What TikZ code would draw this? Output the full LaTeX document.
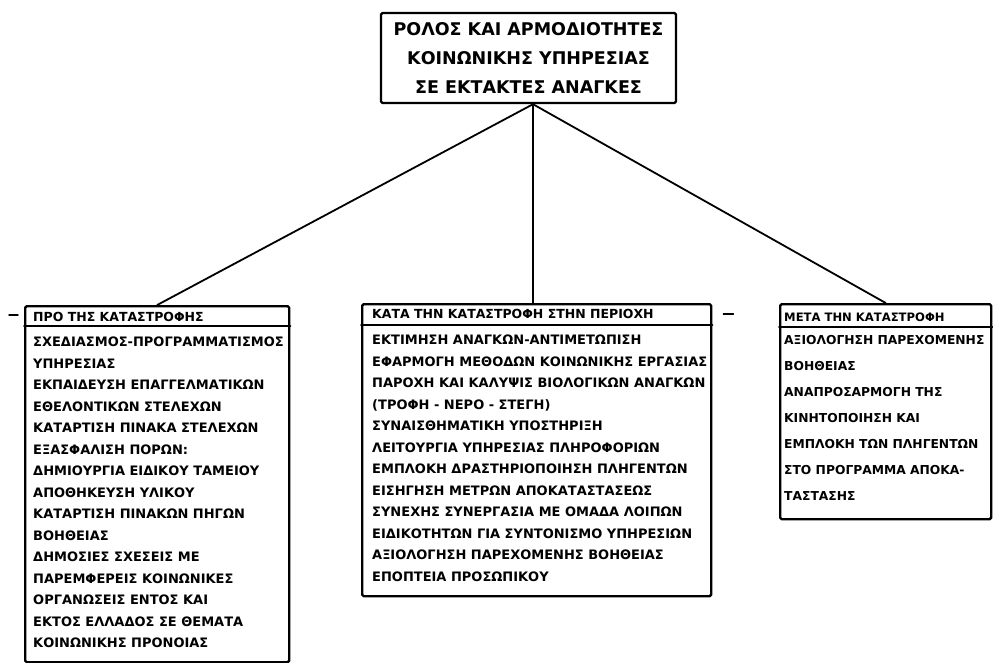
\documentclass[tikz,border=0pt]{standalone}
\usepackage{fontspec}
\setmainfont{DejaVu Sans}
\begin{document}
\begin{tikzpicture}[x=1pt, y=-1pt, line cap=round, line join=round,
  riquadro/.style={draw, line width=2.4pt, rounded corners=1.5pt, inner sep=0pt, anchor=north west},
  intesta/.style={inner sep=0pt, anchor=north west, font=\bfseries\fontsize{#1}{16}\selectfont},
  intesta/.default=12.5,
  voci/.style 2 args={inner sep=0pt, anchor=north west, align=left, font=\bfseries\fontsize{#1}{#2}\selectfont},
  filo/.style={line width=1.8pt}]
  \useasboundingbox (0,0) rectangle (993,663);

  % titolo
  \node[draw, line width=2.4pt, rounded corners=1.5pt, minimum width=295pt, minimum height=90pt,
        align=center, font=\bfseries\fontsize{17.5}{29}\selectfont] (titolo) at (528.5,58)
    {ΡΟΛΟΣ ΚΑΙ ΑΡΜΟΔΙΟΤΗΤΕΣ\\ΚΟΙΝΩΝΙΚΗΣ ΥΠΗΡΕΣΙΑΣ\\ΣΕ ΕΚΤΑΚΤΕΣ ΑΝΑΓΚΕΣ};
  \coordinate (nodo) at ([xshift=4.5pt]titolo.south);

  % riquadri
  \node[riquadro, minimum width=264pt, minimum height=356pt] (prima) at (24,305) {};
  \node[riquadro, minimum width=349pt, minimum height=292pt] (durante) at (361,303) {};
  \node[riquadro, minimum width=211pt, minimum height=215pt] (dopo) at (779,303) {};

  % intestazioni
  \draw[filo] ([yshift=-21pt]prima.north west) -- ([yshift=-21pt]prima.north east);
  \draw[filo] ([yshift=-22pt]durante.north west) -- ([yshift=-22pt]durante.north east);
  \draw[filo] ([yshift=-24pt]dopo.north west) -- ([yshift=-24pt]dopo.north east);
  \node[intesta] (prima-h) at (33,312) {ΠΡΟ ΤΗΣ ΚΑΤΑΣΤΡΟΦΗΣ};
  \node[intesta] (durante-h) at (372,309) {ΚΑΤΑ ΤΗΝ ΚΑΤΑΣΤΡΟΦΗ ΣΤΗΝ ΠΕΡΙΟΧΗ};
  \node[intesta=11.6] (dopo-h) at (784,312.5) {ΜΕΤΑ ΤΗΝ ΚΑΤΑΣΤΡΟΦΗ};

  % voci
  \node[voci={13}{21.5pt}] (prima-t) at (33,337) {%
    ΣΧΕΔΙΑΣΜΟΣ-ΠΡΟΓΡΑΜΜΑΤΙΣΜΟΣ\\ΥΠΗΡΕΣΙΑΣ\\ΕΚΠΑΙΔΕΥΣΗ ΕΠΑΓΓΕΛΜΑΤΙΚΩΝ\\
    ΕΘΕΛΟΝΤΙΚΩΝ ΣΤΕΛΕΧΩΝ\\ΚΑΤΑΡΤΙΣΗ ΠΙΝΑΚΑ ΣΤΕΛΕΧΩΝ\\ΕΞΑΣΦΑΛΙΣΗ ΠΟΡΩΝ:\\
    ΔΗΜΙΟΥΡΓΙΑ ΕΙΔΙΚΟΥ ΤΑΜΕΙΟΥ\\ΑΠΟΘΗΚΕΥΣΗ ΥΛΙΚΟΥ\\ΚΑΤΑΡΤΙΣΗ ΠΙΝΑΚΩΝ ΠΗΓΩΝ\\
    ΒΟΗΘΕΙΑΣ\\ΔΗΜΟΣΙΕΣ ΣΧΕΣΕΙΣ ΜΕ\\ΠΑΡΕΜΦΕΡΕΙΣ ΚΟΙΝΩΝΙΚΕΣ\\ΟΡΓΑΝΩΣΕΙΣ ΕΝΤΟΣ ΚΑΙ\\
    ΕΚΤΟΣ ΕΛΛΑΔΟΣ ΣΕ ΘΕΜΑΤΑ\\ΚΟΙΝΩΝΙΚΗΣ ΠΡΟΝΟΙΑΣ};
  \node[voci={13}{21.5pt}] (durante-t) at (372,335) {%
    ΕΚΤΙΜΗΣΗ ΑΝΑΓΚΩΝ-ΑΝΤΙΜΕΤΩΠΙΣΗ\\ΕΦΑΡΜΟΓΗ ΜΕΘΟΔΩΝ ΚΟΙΝΩΝΙΚΗΣ ΕΡΓΑΣΙΑΣ\\
    ΠΑΡΟΧΗ ΚΑΙ ΚΑΛΥΨΙΣ ΒΙΟΛΟΓΙΚΩΝ ΑΝΑΓΚΩΝ\\(ΤΡΟΦΗ - ΝΕΡΟ - ΣΤΕΓΗ)\\
    ΣΥΝΑΙΣΘΗΜΑΤΙΚΗ ΥΠΟΣΤΗΡΙΞΗ\\ΛΕΙΤΟΥΡΓΙΑ ΥΠΗΡΕΣΙΑΣ ΠΛΗΡΟΦΟΡΙΩΝ\\
    ΕΜΠΛΟΚΗ ΔΡΑΣΤΗΡΙΟΠΟΙΗΣΗ ΠΛΗΓΕΝΤΩΝ\\ΕΙΣΗΓΗΣΗ ΜΕΤΡΩΝ ΑΠΟΚΑΤΑΣΤΑΣΕΩΣ\\
    ΣΥΝΕΧΗΣ ΣΥΝΕΡΓΑΣΙΑ ΜΕ ΟΜΑΔΑ ΛΟΙΠΩΝ\\ΕΙΔΙΚΟΤΗΤΩΝ ΓΙΑ ΣΥΝΤΟΝΙΣΜΟ ΥΠΗΡΕΣΙΩΝ\\
    ΑΞΙΟΛΟΓΗΣΗ ΠΑΡΕΧΟΜΕΝΗΣ ΒΟΗΘΕΙΑΣ\\ΕΠΟΠΤΕΙΑ ΠΡΟΣΩΠΙΚΟΥ};
  \node[voci={12.3}{26pt}] (dopo-t) at (784,335.5) {%
    ΑΞΙΟΛΟΓΗΣΗ ΠΑΡΕΧΟΜΕΝΗΣ\\ΒΟΗΘΕΙΑΣ\\ΑΝΑΠΡΟΣΑΡΜΟΓΗ ΤΗΣ\\ΚΙΝΗΤΟΠΟΙΗΣΗ ΚΑΙ\\
    ΕΜΠΛΟΚΗ ΤΩΝ ΠΛΗΓΕΝΤΩΝ\\ΣΤΟ ΠΡΟΓΡΑΜΜΑ ΑΠΟΚΑ-\\ΤΑΣΤΑΣΗΣ};

  % collegamenti
  \draw[filo] (nodo) -- (prima.north);
  \draw[filo] (nodo) -- (nodo |- durante.north);
  \draw[filo] (nodo) -- (dopo.north);

  % trattini
  \draw[line width=1.4pt] ([xshift=-15pt,yshift=-10pt]prima.north west) -- ++(9,0);
  \draw[line width=1.4pt] ([xshift=11pt,yshift=-11pt]durante.north east) -- ++(10,0);
\end{tikzpicture}
\end{document}
